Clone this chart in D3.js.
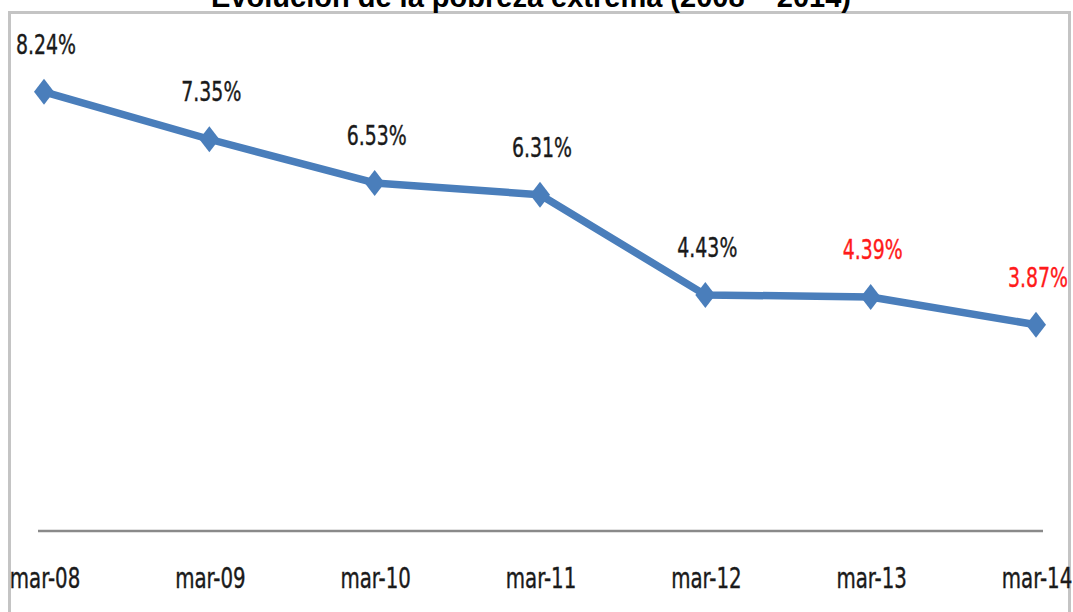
<!DOCTYPE html>
<html>
<head>
<meta charset="utf-8">
<script src="https://cdn.jsdelivr.net/npm/d3@7"></script>
<style>
  body { margin: 0; background: #fff; }
  svg { display: block; }
</style>
</head>
<body>
<div id="chart"></div>
<script>
// Chart data
var categories = ["mar-08", "mar-09", "mar-10", "mar-11", "mar-12", "mar-13", "mar-14"];
var values = [8.24, 7.35, 6.53, 6.31, 4.43, 4.39, 3.87];
var labelColors = ["#1a1a1a", "#1a1a1a", "#1a1a1a", "#1a1a1a", "#1a1a1a", "#ff1a1a", "#ff1a1a"];
var title = "Evolución de la pobreza extrema (2008 – 2014)";

var svgWidth = 1073;
var svgHeight = 612;

var svg = d3.select("#chart")
  .append("svg")
  .attr("width", svgWidth)
  .attr("height", svgHeight);

var labelFont = "'Liberation Sans Narrow', 'Arial Narrow', 'DejaVu Sans Condensed', sans-serif";

// chart frame (bottom runs off the picture)
svg.append("rect")
  .attr("x", 9.5)
  .attr("y", 12.5)
  .attr("width", 1060)
  .attr("height", 640)
  .attr("fill", "none")
  .attr("stroke", "#c4c4c4")
  .attr("stroke-width", 3);

// title, mostly cut off at the top
svg.append("text")
  .attr("x", 531)
  .attr("y", 7)
  .attr("text-anchor", "middle")
  .style("font-family", "'Liberation Sans', Arial, sans-serif")
  .style("font-weight", "bold")
  .style("font-size", "29px")
  .attr("fill", "#000")
  .text(title);

// scales
var xScale = d3.scalePoint().domain(categories).range([44, 1036]);
var yScale = d3.scaleLinear().domain([0, 10]).range([531, -2]);

// x axis line
svg.append("line")
  .attr("x1", 38)
  .attr("x2", 1043)
  .attr("y1", yScale(0))
  .attr("y2", yScale(0))
  .attr("stroke", "#8a8a8a")
  .attr("stroke-width", 2.5);

// category labels
svg.append("g").selectAll("text")
  .data(categories)
  .enter()
  .append("text")
  .attr("transform", d => `translate(${xScale(d) + 1}, 588) scale(1, 1.3)`)
  .attr("text-anchor", "middle")
  .style("font-family", labelFont)
  .style("font-size", "22px")
  .attr("fill", "#1a1a1a")
  .attr("stroke", "#1a1a1a")
  .attr("stroke-width", 0.3)
  .text(d => d);

// line
var line = d3.line()
  .x((d, i) => xScale(categories[i]))
  .y(d => yScale(d));

svg.append("path")
  .datum(values)
  .attr("d", line)
  .attr("fill", "none")
  .attr("stroke", "#4a7ebb")
  .attr("stroke-width", 7.5)
  .attr("stroke-linejoin", "round");

// diamond markers
svg.append("g").selectAll("path")
  .data(values)
  .enter()
  .append("path")
  .attr("transform", (d, i) => `translate(${xScale(categories[i])}, ${yScale(d)})`)
  .attr("d", "M0,-13L10,0L0,13L-10,0Z")
  .attr("fill", "#4a7ebb");

// value labels
svg.append("g").selectAll("text")
  .data(values)
  .enter()
  .append("text")
  .attr("transform", (d, i) => `translate(${xScale(categories[i]) + 2}, ${yScale(d) - 38}) scale(1, 1.3)`)
  .attr("text-anchor", "middle")
  .style("font-family", labelFont)
  .style("font-size", "21px")
  .attr("fill", (d, i) => labelColors[i])
  .attr("stroke", (d, i) => labelColors[i])
  .attr("stroke-width", 0.3)
  .text(d => d.toFixed(2) + "%");
</script>
</body>
</html>
